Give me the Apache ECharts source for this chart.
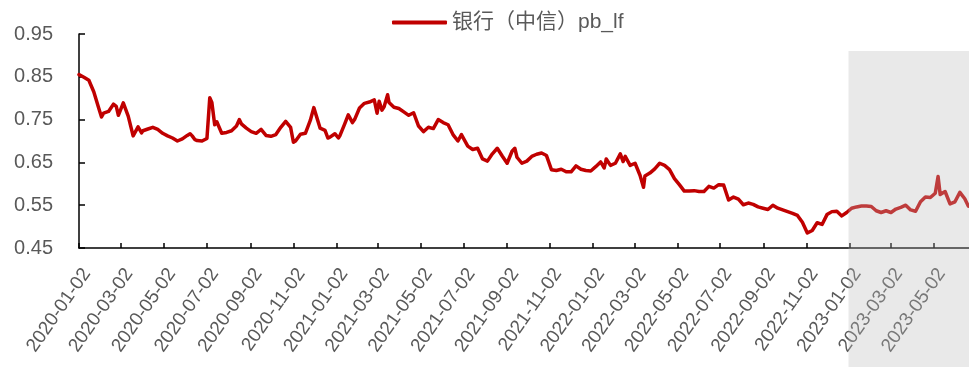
<!DOCTYPE html>
<html>
<head>
<meta charset="utf-8">
<script src="https://cdn.jsdelivr.net/npm/echarts@6/dist/echarts.min.js"></script>
<style>
  html, body { margin: 0; padding: 0; background: #fff; }
  #chart { width: 969px; height: 367px; }
</style>
</head>
<body>
<div id="chart"></div>
<script>
// Bank sector P/B (LF): weekly observations plus extra days around sharp moves.
// dates[i] pairs with pbValues[i]; rows are kept aligned.
const dates = [
  '2020-01-02','2020-01-09','2020-01-16','2020-01-23','2020-01-30','2020-02-03','2020-02-06','2020-02-13','2020-02-20','2020-02-24',
  '2020-02-27','2020-03-05','2020-03-12','2020-03-19','2020-03-26','2020-03-31','2020-04-02','2020-04-09','2020-04-16','2020-04-23',
  '2020-04-30','2020-05-07','2020-05-14','2020-05-21','2020-05-28','2020-06-04','2020-06-08','2020-06-11','2020-06-15','2020-06-18',
  '2020-06-25','2020-07-02','2020-07-06','2020-07-09','2020-07-13','2020-07-16','2020-07-23','2020-07-30','2020-08-06','2020-08-13',
  '2020-08-17','2020-08-20','2020-08-27','2020-09-03','2020-09-10','2020-09-17','2020-09-24','2020-10-01','2020-10-08','2020-10-15',
  '2020-10-22','2020-10-29','2020-11-02','2020-11-05','2020-11-12','2020-11-19','2020-11-26','2020-12-01','2020-12-03','2020-12-10',
  '2020-12-17','2020-12-21','2020-12-24','2020-12-31',
  '2021-01-05','2021-01-07','2021-01-14','2021-01-19','2021-01-21','2021-01-25','2021-01-28','2021-02-04','2021-02-11','2021-02-18',
  '2021-02-25','2021-03-01','2021-03-04','2021-03-08','2021-03-11','2021-03-16','2021-03-18','2021-03-25','2021-04-01','2021-04-08',
  '2021-04-15','2021-04-22','2021-04-29','2021-05-06','2021-05-13','2021-05-20','2021-05-27','2021-06-03','2021-06-10','2021-06-17',
  '2021-06-24','2021-06-29','2021-07-01','2021-07-08','2021-07-15','2021-07-22','2021-07-29','2021-08-05','2021-08-12','2021-08-19',
  '2021-08-26','2021-09-02','2021-09-09','2021-09-13','2021-09-16','2021-09-23','2021-09-30','2021-10-07','2021-10-14','2021-10-21',
  '2021-10-28','2021-11-04','2021-11-11','2021-11-18','2021-11-25','2021-12-02','2021-12-09','2021-12-16','2021-12-23','2021-12-30',
  '2022-01-06','2022-01-13','2022-01-18','2022-01-20','2022-01-21','2022-01-27','2022-02-03','2022-02-10','2022-02-14','2022-02-17',
  '2022-02-24','2022-03-03','2022-03-10','2022-03-15','2022-03-17','2022-03-24','2022-03-31','2022-04-07','2022-04-14','2022-04-21',
  '2022-04-28','2022-05-05','2022-05-12','2022-05-19','2022-05-26','2022-06-02','2022-06-09','2022-06-16','2022-06-23','2022-06-30',
  '2022-07-07','2022-07-14','2022-07-21','2022-07-28','2022-08-04','2022-08-11','2022-08-18','2022-08-25','2022-09-01','2022-09-08',
  '2022-09-15','2022-09-22','2022-09-29','2022-10-06','2022-10-13','2022-10-20','2022-10-27','2022-11-03','2022-11-10','2022-11-17',
  '2022-11-24','2022-12-01','2022-12-08','2022-12-15','2022-12-22','2022-12-29',
  '2023-01-05','2023-01-12','2023-01-19','2023-01-26','2023-02-02','2023-02-09','2023-02-16','2023-02-23','2023-03-02','2023-03-09',
  '2023-03-16','2023-03-23','2023-03-30','2023-04-06','2023-04-13','2023-04-20','2023-04-27','2023-05-04','2023-05-08','2023-05-11',
  '2023-05-18','2023-05-25','2023-06-01','2023-06-08','2023-06-15','2023-06-20'
];

const pbValues = [
  0.855,0.849,0.842,0.815,0.777,0.756,0.765,0.769,0.786,0.781,
  0.760,0.789,0.758,0.712,0.733,0.719,0.724,0.728,0.732,0.727,
  0.718,0.712,0.707,0.700,0.705,0.713,0.717,0.712,0.703,0.701,
  0.700,0.706,0.801,0.790,0.738,0.745,0.718,0.720,0.724,0.735,
  0.750,0.740,0.730,0.722,0.718,0.727,0.713,0.711,0.715,0.732,
  0.746,0.732,0.697,0.700,0.716,0.718,0.748,0.778,0.774,0.730,
  0.725,0.707,0.709,0.717,
  0.707,0.712,0.740,0.761,0.755,0.743,0.750,0.777,0.788,0.791,
  0.796,0.765,0.793,0.772,0.780,0.808,0.790,0.779,0.776,0.768,
  0.760,0.766,0.735,0.722,0.732,0.729,0.750,0.743,0.738,0.715,
  0.700,0.715,0.712,0.688,0.680,0.683,0.658,0.653,0.670,0.683,
  0.665,0.648,0.676,0.683,0.662,0.648,0.653,0.664,0.669,0.672,
  0.666,0.633,0.631,0.634,0.628,0.628,0.642,0.634,0.631,0.630,
  0.640,0.651,0.637,0.650,0.658,0.643,0.648,0.670,0.652,0.664,
  0.643,0.648,0.620,0.592,0.618,0.625,0.635,0.648,0.643,0.633,
  0.612,0.598,0.583,0.583,0.584,0.582,0.582,0.594,0.590,0.598,
  0.597,0.562,0.569,0.564,0.551,0.555,0.552,0.546,0.543,0.540,
  0.550,0.543,0.539,0.535,0.531,0.526,0.510,0.485,0.491,0.509,
  0.505,0.528,0.535,0.536,0.525,0.533,
  0.543,0.546,0.548,0.548,0.547,0.537,0.533,0.537,0.533,0.541,
  0.545,0.550,0.539,0.536,0.558,0.569,0.568,0.578,0.617,0.575,
  0.582,0.553,0.558,0.580,0.565,0.548
];

// Date labels along the horizontal axis, every two months
const tickDates = [
  '2020-01-02','2020-03-02','2020-05-02','2020-07-02','2020-09-02','2020-11-02',
  '2021-01-02','2021-03-02','2021-05-02','2021-07-02','2021-09-02','2021-11-02',
  '2022-01-02','2022-03-02','2022-05-02','2022-07-02','2022-09-02','2022-11-02',
  '2023-01-02','2023-03-02','2023-05-02'
];

const seriesName = '银行（中信）pb_lf';
const axisStart = '2020-01-02';
const axisEnd = '2023-06-21';
const shadeStart = '2023-01-02';

function toTime(s) {
  const p = s.split('-').map(Number);
  return new Date(p[0], p[1] - 1, p[2]).getTime();
}
function pad(n) { return (n < 10 ? '0' : '') + n; }
function fmtDate(t) {
  const d = new Date(t);
  return d.getFullYear() + '-' + pad(d.getMonth() + 1) + '-' + pad(d.getDate());
}

const tickTimes = tickDates.map(toTime);
const seriesData = dates.map((d, i) => [toTime(d), pbValues[i]]);

const chart = echarts.init(document.getElementById('chart'), null, { renderer: 'canvas' });

const labelFont = 'Liberation Sans, Arial, sans-serif';

chart.setOption({
  animation: false,
  backgroundColor: '#ffffff',
  legend: {
    top: 7,
    left: 387,
    icon: 'roundRect',
    itemWidth: 55,
    itemHeight: 4,
    textStyle: {
      color: '#595959',
      fontSize: 21,
      fontFamily: 'Liberation Sans, Noto Sans CJK SC, sans-serif'
    },
    data: [seriesName]
  },
  grid: { left: 79, right: 0, top: 34, bottom: 119, containLabel: false },
  xAxis: {
    // timestamps on a linear axis so that ticks can sit on chosen calendar days
    type: 'value',
    min: toTime(axisStart),
    max: toTime(axisEnd),
    scale: true,
    splitLine: { show: false },
    axisLine: { show: true, onZero: false, lineStyle: { color: '#000', width: 1.5 } },
    axisTick: {
      show: true, inside: true, length: 5,
      customValues: tickTimes,
      lineStyle: { color: '#000', width: 1.5 }
    },
    axisLabel: {
      customValues: tickTimes,
      rotate: 55,
      margin: 17,
      verticalAlign: 'top',
      color: '#595959',
      fontSize: 19,
      fontFamily: labelFont,
      formatter: (v) => fmtDate(v)
    }
  },
  yAxis: {
    type: 'value',
    min: 0.45,
    max: 0.95,
    interval: 0.1,
    splitLine: { show: false },
    axisLine: { show: true, lineStyle: { color: '#000', width: 1.5 } },
    axisTick: { show: true, inside: true, length: 6, lineStyle: { color: '#000', width: 1.5 } },
    axisLabel: {
      margin: 26,
      color: '#595959',
      fontSize: 20,
      fontFamily: labelFont,
      formatter: (v) => v.toFixed(2)
    }
  },
  series: [{
    name: seriesName,
    type: 'line',
    data: seriesData,
    showSymbol: false,
    symbol: 'none',
    lineStyle: { color: '#C00000', width: 3.5, join: 'round', cap: 'round' },
    itemStyle: { color: '#C00000' }
  }]
});

// Translucent grey panel over the 2023 period, laid on top of line and labels
const shadeX = chart.convertToPixel({ xAxisIndex: 0 }, toTime(shadeStart)) - 1;
chart.setOption({
  graphic: [{
    type: 'rect',
    z: 100,
    silent: true,
    shape: { x: shadeX, y: 51, width: chart.getWidth() - shadeX, height: chart.getHeight() - 51 },
    style: { fill: 'rgba(187,187,187,0.32)' }
  }]
});
</script>
</body>
</html>
